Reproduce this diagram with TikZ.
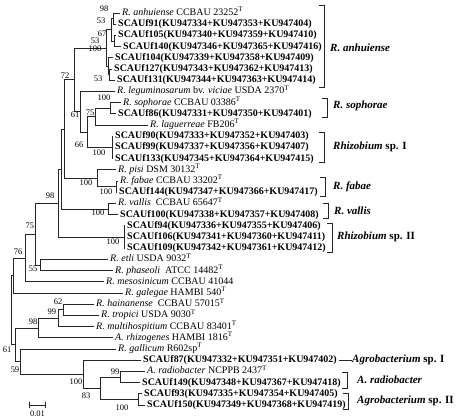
\documentclass[tikz,border=0pt]{standalone}
\usepackage{fontspec}
\setmainfont{Liberation Serif}
\begin{document}
\begin{tikzpicture}[x=1pt, y=-1pt,
    ast/.style={line width=0.7pt, black!85},
    blatt/.style={anchor=west, inner sep=2pt, text height=7pt, text depth=2pt, font=\fontsize{10}{11}\selectfont},
    sca/.style={blatt, font=\fontsize{10}{11}\selectfont\bfseries},
    boot/.style={inner sep=0pt, font=\fontsize{8.5}{9}\selectfont},
    gruppe/.style={anchor=west, inner sep=0pt, font=\fontsize{11}{12}\selectfont\bfseries}]
    \useasboundingbox (0,0) rectangle (459,420);

    %Blaetter
    \node (l1) at (120,13.0) [blatt] {\textit{R. anhuiense} CCBAU 23252\textsuperscript{T}};
    \node (l2) at (116,24.2) [sca] {SCAUf91(KU947334+KU947353+KU947404)};
    \node (l3) at (116,35.4) [sca] {SCAUf105(KU947340+KU947359+KU947410)};
    \node (l4) at (121,46.6) [sca] {SCAUf140(KU947346+KU947365+KU947416)};
    \node (l5) at (113,57.8) [sca] {SCAUf104(KU947339+KU947358+KU947409)};
    \node (l6) at (112,69.0) [sca] {SCAUf127(KU947343+KU947362+KU947413)};
    \node (l7) at (115,80.2) [sca] {SCAUf131(KU947344+KU947363+KU947414)};
    \node (l8) at (115,91.4) [blatt] {\textit{R. leguminosarum} bv. \textit{viciae} USDA 2370\textsuperscript{T}};
    \node (l9) at (121,102.6) [blatt] {\textit{R. sophorae} CCBAU 03386\textsuperscript{T}};
    \node (l10) at (116,113.8) [sca] {SCAUf86(KU947331+KU947350+KU947401)};
    \node (l11) at (148,125.0) [blatt] {\textit{R. laguerreae} FB206\textsuperscript{T}};
    \node (l12) at (113,136.2) [sca] {SCAUf90(KU947333+KU947352+KU947403)};
    \node (l13) at (113,147.4) [sca] {SCAUf99(KU947337+KU947356+KU947407)};
    \node (l14) at (113,158.6) [sca] {SCAUf133(KU947345+KU947364+KU947415)};
    \node (l15) at (116,169.8) [blatt] {\textit{R. pisi} DSM 30132\textsuperscript{T}};
    \node (l16) at (118,181.0) [blatt] {\textit{R. fabae} CCBAU 33202\textsuperscript{T}};
    \node (l17) at (117,192.2) [sca] {SCAUf144(KU947347+KU947366+KU947417)};
    \node (l18) at (116,203.4) [blatt] {\textit{R. vallis}\ \ CCBAU 65647\textsuperscript{T}};
    \node (l19) at (118,214.6) [sca] {SCAUf100(KU947338+KU947357+KU947408)};
    \node (l20) at (125,225.8) [sca] {SCAUf94(KU947336+KU947355+KU947406)};
    \node (l21) at (125,237.0) [sca] {SCAUf106(KU947341+KU947360+KU947411)};
    \node (l22) at (125,248.2) [sca] {SCAUf109(KU947342+KU947361+KU947412)};
    \node (l23) at (108,259.4) [blatt] {\textit{R. etli} USDA 9032\textsuperscript{T}};
    \node (l24) at (113,270.6) [blatt] {\textit{R. phaseoli}\ \ ATCC 14482\textsuperscript{T}};
    \node (l25) at (104,281.8) [blatt] {\textit{R. mesosinicum} CCBAU 41044};
    \node (l26) at (123,293.0) [blatt] {\textit{R. galegae} HAMBI 540\textsuperscript{T}};
    \node (l27) at (94,304.2) [blatt] {\textit{R. hainanense}\ \ CCBAU 57015\textsuperscript{T}};
    \node (l28) at (99,315.4) [blatt] {\textit{R. tropici} USDA 9030\textsuperscript{T}};
    \node (l29) at (94,326.6) [blatt] {\textit{R. multihospitium} CCBAU 83401\textsuperscript{T}};
    \node (l30) at (113,337.8) [blatt] {\textit{A. rhizogenes} HAMBI 1816\textsuperscript{T}};
    \node (l31) at (116,349.0) [blatt] {\textit{R. gallicum} R602sp\textsuperscript{T}};
    \node (l32) at (141,360.2) [sca] {SCAUf87(KU947332+KU947351+KU947402)};
    \node (l33) at (145,371.4) [blatt] {\textit{A. radiobacter} NCPPB 2437\textsuperscript{T}};
    \node (l34) at (140,382.6) [sca] {SCAUf149(KU947348+KU947367+KU947418)};
    \node (l35) at (142,393.8) [sca] {SCAUf93(KU947335+KU947354+KU947405)};
    \node (l36) at (145,405.0) [sca] {SCAUf150(KU947349+KU947368+KU947419)};

    %Knoten
    \coordinate (a98) at (113,18.6);
    \coordinate (a67) at (114,41.0);
    \coordinate (a53) at (111,29.8);
    \coordinate (a53b) at (109,74.6);
    \coordinate (a0) at (108,66.2);
    \coordinate (a100) at (106,48.0);
    \coordinate (n72) at (74,79.85);
    \coordinate (n61) at (80,111.7);
    \coordinate (n66) at (87,132.0);
    \coordinate (n75) at (95,116.6);
    \coordinate (n100a) at (110,108.2);
    \coordinate (n100b) at (112,147.4);
    \coordinate (n100c) at (97,178.2);
    \coordinate (n100d) at (116,186.6);
    \coordinate (n100e) at (108,209.0);
    \coordinate (n100f) at (124,237.0);
    \coordinate (ny) at (64,129.0);
    \coordinate (nx) at (61,169.0);
    \coordinate (n98) at (58,203.0);
    \coordinate (n55) at (40,265.0);
    \coordinate (n75b) at (35,234.0);
    \coordinate (n76) at (25,257.9);
    \coordinate (nup) at (13,275.5);
    \coordinate (n62) at (63,309.8);
    \coordinate (n99) at (58,318.2);
    \coordinate (n98b) at (38,328.0);
    \coordinate (n99c) at (120,377.0);
    \coordinate (n100h) at (138,399.4);
    \coordinate (n83) at (100,388.2);
    \coordinate (n100g) at (83,374.2);
    \coordinate (n59) at (20,361.6);
    \coordinate (n61b) at (15,344.8);
    \coordinate (wurzel) at (11,310.2);

    %Aeste
    \draw[ast] (a98) |- (l1.west) (a98) |- (l2.west);
    \draw[ast] (a67) |- (l3.west) (a67) |- (l4.west);
    \draw[ast] (a53) |- (a98) (a53) |- (a67);
    \draw[ast] (a53b) |- (l6.west) (a53b) |- (l7.west);
    \draw[ast] (a0) |- (l5.west) (a0) |- (a53b);
    \draw[ast] (a100) |- (a53) (a100) |- (a0);
    \draw[ast] (n72) |- (a100) (n72) |- (n61);
    \draw[ast] (n61) |- (l8.west) (n61) |- (n66);
    \draw[ast] (n66) |- (n75) (n66) |- (n100b);
    \draw[ast] (n75) |- (n100a) (n75) |- (l11.west);
    \draw[ast] (n100a) |- (l9.west) (n100a) |- (l10.west);
    \draw[ast] (n100b) |- (l12.west) (n100b) |- (l13.west) (n100b) |- (l14.west);
    \draw[ast] (n100d) |- (l16.west) (n100d) |- (l17.west);
    \draw[ast] (n100c) |- (l15.west) (n100c) |- (n100d);
    \draw[ast] (n100e) |- (l18.west) (n100e) |- (l19.west);
    \draw[ast] (n100f) |- (l20.west) (n100f) |- (l21.west) (n100f) |- (l22.west);
    \draw[ast] (ny) |- (n72) (ny) |- (n100c);
    \draw[ast] (nx) |- (ny) (nx) |- (n100e);
    \draw[ast] (n98) |- (nx) (n98) |- (n100f);
    \draw[ast] (n55) |- (l23.west) (n55) |- (l24.west);
    \draw[ast] (n75b) |- (n98) (n75b) |- (n55);
    \draw[ast] (n76) |- (n75b) (n76) |- (l25.west);
    \draw[ast] (nup) |- (n76) (nup) |- (l26.west);
    \draw[ast] (n62) |- (l27.west) (n62) |- (l28.west);
    \draw[ast] (n99) |- (n62) (n99) |- (l29.west);
    \draw[ast] (n98b) |- (n99) (n98b) |- (l30.west);
    \draw[ast] (n99c) |- (l33.west) (n99c) |- (l34.west);
    \draw[ast] (n100h) |- (l35.west) (n100h) |- (l36.west);
    \draw[ast] (n83) |- (n99c) (n83) |- (n100h);
    \draw[ast] (n100g) |- (l32.west) (n100g) |- (n83);
    \draw[ast] (n59) |- (l31.west) (n59) |- (n100g);
    \draw[ast] (n61b) |- (n98b) (n61b) |- (n59);
    \draw[ast] (wurzel) |- (nup) (wurzel) |- (n61b);

    %Bootstrap-Werte
    \node (b1) at (104,9) [boot] {98};
    \node (b2) at (101,21) [boot] {53};
    \node (b3) at (102,34) [boot] {67};
    \node (b4) at (95,41) [boot] {53};
    \node (b5) at (95,49) [boot] {100};
    \node (b6) at (98,79) [boot] {53};
    \node (b7) at (65,76) [boot] {72};
    \node (b8) at (75,115) [boot] {61};
    \node (b9) at (104,98) [boot] {100};
    \node (b10) at (90,113) [boot] {75};
    \node (b11) at (79,145) [boot] {66};
    \node (b12) at (99,153) [boot] {100};
    \node (b13) at (86,183) [boot] {100};
    \node (b14) at (50,196) [boot] {98};
    \node (b15) at (106,192) [boot] {100};
    \node (b16) at (98,213) [boot] {100};
    \node (b17) at (30,226) [boot] {75};
    \node (b18) at (113,242) [boot] {100};
    \node (b19) at (18,252) [boot] {76};
    \node (b20) at (33,269) [boot] {55};
    \node (b21) at (58,302) [boot] {62};
    \node (b22) at (52,312) [boot] {99};
    \node (b23) at (33,322) [boot] {98};
    \node (b24) at (7,350) [boot] {61};
    \node (b25) at (15,370) [boot] {59};
    \node (b26) at (115,372) [boot] {99};
    \node (b27) at (76,382) [boot] {100};
    \node (b28) at (86,396) [boot] {83};
    \node (b29) at (122,408) [boot] {100};

    %Klammern und Gruppen
    \coordinate (k1a) at (324,5); \coordinate (k1b) at (324,87);
    \draw[ast] (k1a) ++(-5,0) -- (k1a) -- (k1b) -- ++(-5,0);
    \node (c1) at (330,48) [gruppe] {\textit{R. anhuiense}};
    \coordinate (k2a) at (327,98); \coordinate (k2b) at (327,117);
    \draw[ast] (k2a) ++(-5,0) -- (k2a) -- (k2b) -- ++(-5,0);
    \node (c2) at (333,106) [gruppe] {\textit{R. sophorae}};
    \coordinate (k3a) at (324,132); \coordinate (k3b) at (324,162);
    \draw[ast] (k3a) ++(-5,0) -- (k3a) -- (k3b) -- ++(-5,0);
    \node (c3) at (333,147) [gruppe] {\textit{Rhizobium} sp. I};
    \coordinate (k4a) at (325,177); \coordinate (k4b) at (325,196);
    \draw[ast] (k4a) ++(-5,0) -- (k4a) -- (k4b) -- ++(-5,0);
    \node (c4) at (333,187) [gruppe] {\textit{R. fabae}};
    \coordinate (k5a) at (328,203); \coordinate (k5b) at (328,218);
    \draw[ast] (k5a) ++(-5,0) -- (k5a) -- (k5b) -- ++(-5,0);
    \node (c5) at (334,211) [gruppe] {\textit{R. vallis}};
    \coordinate (k6a) at (332,223); \coordinate (k6b) at (332,252);
    \draw[ast] (k6a) ++(-5,0) -- (k6a) -- (k6b) -- ++(-5,0);
    \node (c6) at (337,237) [gruppe] {\textit{Rhizobium} sp. II};
    \node (c7) at (352,360.2) [gruppe] {\textit{Agrobacterium} sp. I};
    \draw[ast] (l32.east) -- (c7.west);
    \coordinate (k8a) at (347,372); \coordinate (k8b) at (347,388);
    \draw[ast] (k8a) ++(-5,0) -- (k8a) -- (k8b) -- ++(-5,0);
    \node (c8) at (357,380) [gruppe] {\textit{A. radiobacter}};
    \coordinate (k9a) at (348,393); \coordinate (k9b) at (348,409);
    \draw[ast] (k9a) ++(-5,0) -- (k9a) -- (k9b) -- ++(-5,0);
    \node (c9) at (357,401) [gruppe] {\textit{Agrobacterium} sp. II};

    %Massstab
    \coordinate (s1) at (29,405);
    \coordinate (s2) at (46,405);
    \draw[ast, |-|] (s1) -- (s2);
    \node (s0) at (37.5,414) [boot] {0.01};
\end{tikzpicture}
\end{document}
